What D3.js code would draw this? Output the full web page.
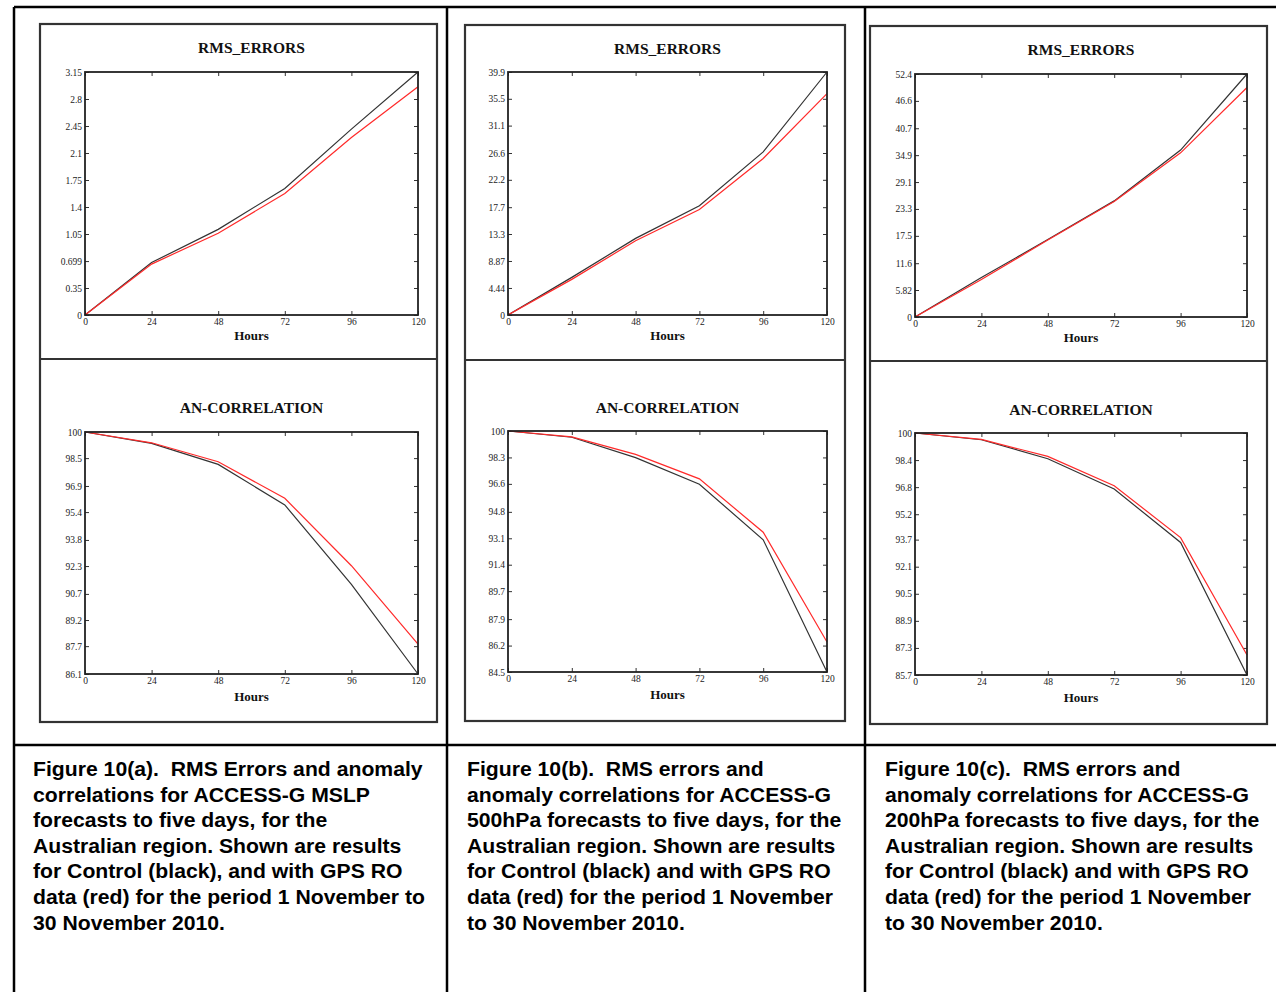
<!DOCTYPE html>
<html>
<head>
<meta charset="utf-8">
<script src="https://cdn.jsdelivr.net/npm/d3@7"></script>
<style>
  body { margin: 0; background: #fff; }
  svg { display: block; }
</style>
</head>
<body>
<svg id="canvas"></svg>
<script>
// forecast hours (x axis, same for every panel)
const hours = [0, 24, 48, 72, 96, 120];

// Figure 10(a) MSLP
const rmsA_control = [0, 0.68, 1.11, 1.64, 2.41, 3.15];
const rmsA_gps     = [0, 0.66, 1.06, 1.575, 2.30, 2.96];
const acA_control  = [100, 99.35, 98.14, 95.81, 91.25, 86.1];
const acA_gps      = [100, 99.38, 98.29, 96.19, 92.32, 87.81];

// Figure 10(b) 500hPa
const rmsB_control = [0, 6.18, 12.58, 17.93, 26.78, 39.9];
const rmsB_gps     = [0, 5.85, 12.19, 17.33, 25.7, 36.36];
const acB_control  = [100, 99.6, 98.29, 96.58, 93.0, 84.5];
const acB_gps      = [100, 99.62, 98.5, 96.92, 93.49, 86.43];

// Figure 10(c) 200hPa
const rmsC_control = [0, 8.5, 16.71, 25.04, 35.99, 52.4];
const rmsC_gps     = [0, 8.07, 16.6, 24.9, 35.4, 49.5];
const acC_control  = [100, 99.6, 98.48, 96.69, 93.53, 85.7];
const acC_gps      = [100, 99.62, 98.62, 96.88, 93.82, 86.88];

// y tick labels as printed
const rmsA_ticks = ["0", "0.35", "0.699", "1.05", "1.4", "1.75", "2.1", "2.45", "2.8", "3.15"];
const acA_ticks  = ["86.1", "87.7", "89.2", "90.7", "92.3", "93.8", "95.4", "96.9", "98.5", "100"];
const rmsB_ticks = ["0", "4.44", "8.87", "13.3", "17.7", "22.2", "26.6", "31.1", "35.5", "39.9"];
const acB_ticks  = ["84.5", "86.2", "87.9", "89.7", "91.4", "93.1", "94.8", "96.6", "98.3", "100"];
const rmsC_ticks = ["0", "5.82", "11.6", "17.5", "23.3", "29.1", "34.9", "40.7", "46.6", "52.4"];
const acC_ticks  = ["85.7", "87.3", "88.9", "90.5", "92.1", "93.7", "95.2", "96.8", "98.4", "100"];

const captionA = [
  "Figure 10(a).  RMS Errors and anomaly",
  "correlations for ACCESS-G MSLP",
  "forecasts to five days, for the",
  "Australian region. Shown are results",
  "for Control (black), and with GPS RO",
  "data (red) for the period 1 November to",
  "30 November 2010."
];
const captionB = [
  "Figure 10(b).  RMS errors and",
  "anomaly correlations for ACCESS-G",
  "500hPa forecasts to five days, for the",
  "Australian region. Shown are results",
  "for Control (black) and with GPS RO",
  "data (red) for the period 1 November",
  "to 30 November 2010."
];
const captionC = [
  "Figure 10(c).  RMS errors and",
  "anomaly correlations for ACCESS-G",
  "200hPa forecasts to five days, for the",
  "Australian region. Shown are results",
  "for Control (black) and with GPS RO",
  "data (red) for the period 1 November",
  "to 30 November 2010."
];

const width = 1276, height = 992;
const svg = d3.select("#canvas").attr("width", width).attr("height", height);

// columns of the figure table
const columns = [
  { box: [40, 24, 437, 722], divY: 359, px: [85, 418],
    top: { y: [72, 315], title: 48, hours: 336, ticks: rmsA_ticks, control: rmsA_control, gps: rmsA_gps },
    bot: { y: [432, 674], title: 408, hours: 697, ticks: acA_ticks, control: acA_control, gps: acA_gps },
    caption: captionA, capX: 33 },
  { box: [465, 25, 845, 721], divY: 360, px: [508, 827],
    top: { y: [72, 315], title: 49, hours: 336, ticks: rmsB_ticks, control: rmsB_control, gps: rmsB_gps },
    bot: { y: [431, 672], title: 408, hours: 695, ticks: acB_ticks, control: acB_control, gps: acB_gps },
    caption: captionB, capX: 467 },
  { box: [870, 26, 1267, 724], divY: 361, px: [915, 1247],
    top: { y: [74, 317], title: 50, hours: 338, ticks: rmsC_ticks, control: rmsC_control, gps: rmsC_gps },
    bot: { y: [433, 675], title: 410, hours: 698, ticks: acC_ticks, control: acC_control, gps: acC_gps },
    caption: captionC, capX: 885 }
];

// outer table lines
const tableLines = [
  [14, 7, 1276, 7], [14, 7, 14, 992], [447, 7, 447, 992], [865, 7, 865, 992], [14, 745, 1276, 745]
];
svg.selectAll("line.table")
  .data(tableLines)
  .join("line")
  .attr("class", "table")
  .attr("x1", d => d[0]).attr("y1", d => d[1])
  .attr("x2", d => d[2]).attr("y2", d => d[3])
  .attr("stroke", "#000")
  .attr("stroke-width", 2.5);

function drawPlot(g, xr, p, titleText) {
  const vals = p.ticks.map(Number);
  const x = d3.scaleLinear().domain([0, 120]).range(xr);
  const y = d3.scaleLinear().domain(d3.extent(vals)).range([p.y[1], p.y[0]]);

  g.append("text")
    .attr("x", (xr[0] + xr[1]) / 2)
    .attr("y", p.title + 5)
    .attr("text-anchor", "middle")
    .attr("font-family", "Liberation Serif, serif")
    .attr("font-weight", "bold")
    .attr("font-size", 15.5)
    .attr("fill", "#111")
    .text(titleText);

  // inward ticks on all four sides
  const left = d3.axisLeft(y).tickValues(vals).tickFormat((d, i) => p.ticks[i]).tickSize(-4).tickPadding(3);
  const bottom = d3.axisBottom(x).tickValues(hours).tickSize(-4).tickPadding(3);
  const right = d3.axisRight(y).tickValues(vals).tickFormat("").tickSize(-4);
  const top = d3.axisTop(x).tickValues(hours).tickFormat("").tickSize(-4);

  const axes = [
    [left, `translate(${xr[0]},0)`],
    [bottom, `translate(0,${p.y[1]})`],
    [right, `translate(${xr[1]},0)`],
    [top, `translate(0,${p.y[0]})`]
  ];
  axes.forEach(([ax, tr]) => {
    const a = g.append("g").attr("transform", tr).call(ax);
    a.select(".domain").remove();
    a.selectAll("line").attr("stroke", "#333").attr("stroke-width", 1);
    a.selectAll("text")
      .attr("font-family", "Liberation Serif, serif")
      .attr("font-size", 9.5)
      .attr("fill", "#222");
  });

  // lines: control (black) and GPS RO (red)
  const line = d3.line().x((d, i) => x(hours[i])).y(d => y(d));
  g.append("path").datum(p.control)
    .attr("d", line).attr("fill", "none")
    .attr("stroke", "#333").attr("stroke-width", 1.2);
  g.append("path").datum(p.gps)
    .attr("d", line).attr("fill", "none")
    .attr("stroke", "#ff2a2a").attr("stroke-width", 1.2);

  // frame
  g.append("rect")
    .attr("x", xr[0]).attr("y", p.y[0])
    .attr("width", xr[1] - xr[0]).attr("height", p.y[1] - p.y[0])
    .attr("fill", "none")
    .attr("stroke", "#222")
    .attr("stroke-width", 1.8);

  g.append("text")
    .attr("x", (xr[0] + xr[1]) / 2)
    .attr("y", p.hours + 4)
    .attr("text-anchor", "middle")
    .attr("font-family", "Liberation Serif, serif")
    .attr("font-weight", "bold")
    .attr("font-size", 13)
    .attr("fill", "#111")
    .text("Hours");
}

columns.forEach(c => {
  const g = svg.append("g");
  const [x0, y0, x1, y1] = c.box;
  g.append("rect")
    .attr("x", x0).attr("y", y0)
    .attr("width", x1 - x0).attr("height", y1 - y0)
    .attr("fill", "none")
    .attr("stroke", "#333")
    .attr("stroke-width", 2.2);
  g.append("line")
    .attr("x1", x0).attr("x2", x1)
    .attr("y1", c.divY).attr("y2", c.divY)
    .attr("stroke", "#333")
    .attr("stroke-width", 2.2);

  drawPlot(g, c.px, c.top, "RMS_ERRORS");
  drawPlot(g, c.px, c.bot, "AN-CORRELATION");

  // caption, slightly stretched sideways like the scanned page
  const t = svg.append("text")
    .attr("transform", `translate(${c.capX},0) scale(1.07,1) translate(${-c.capX},0)`)
    .attr("font-family", "Liberation Sans, Arial, sans-serif")
    .attr("font-weight", "bold")
    .attr("font-size", 19.8)
    .attr("fill", "#000");
  c.caption.forEach((ln, i) => {
    t.append("tspan")
      .attr("x", c.capX)
      .attr("y", 776 + i * 25.6)
      .attr("xml:space", "preserve")
      .text(ln);
  });
});
</script>
</body>
</html>
